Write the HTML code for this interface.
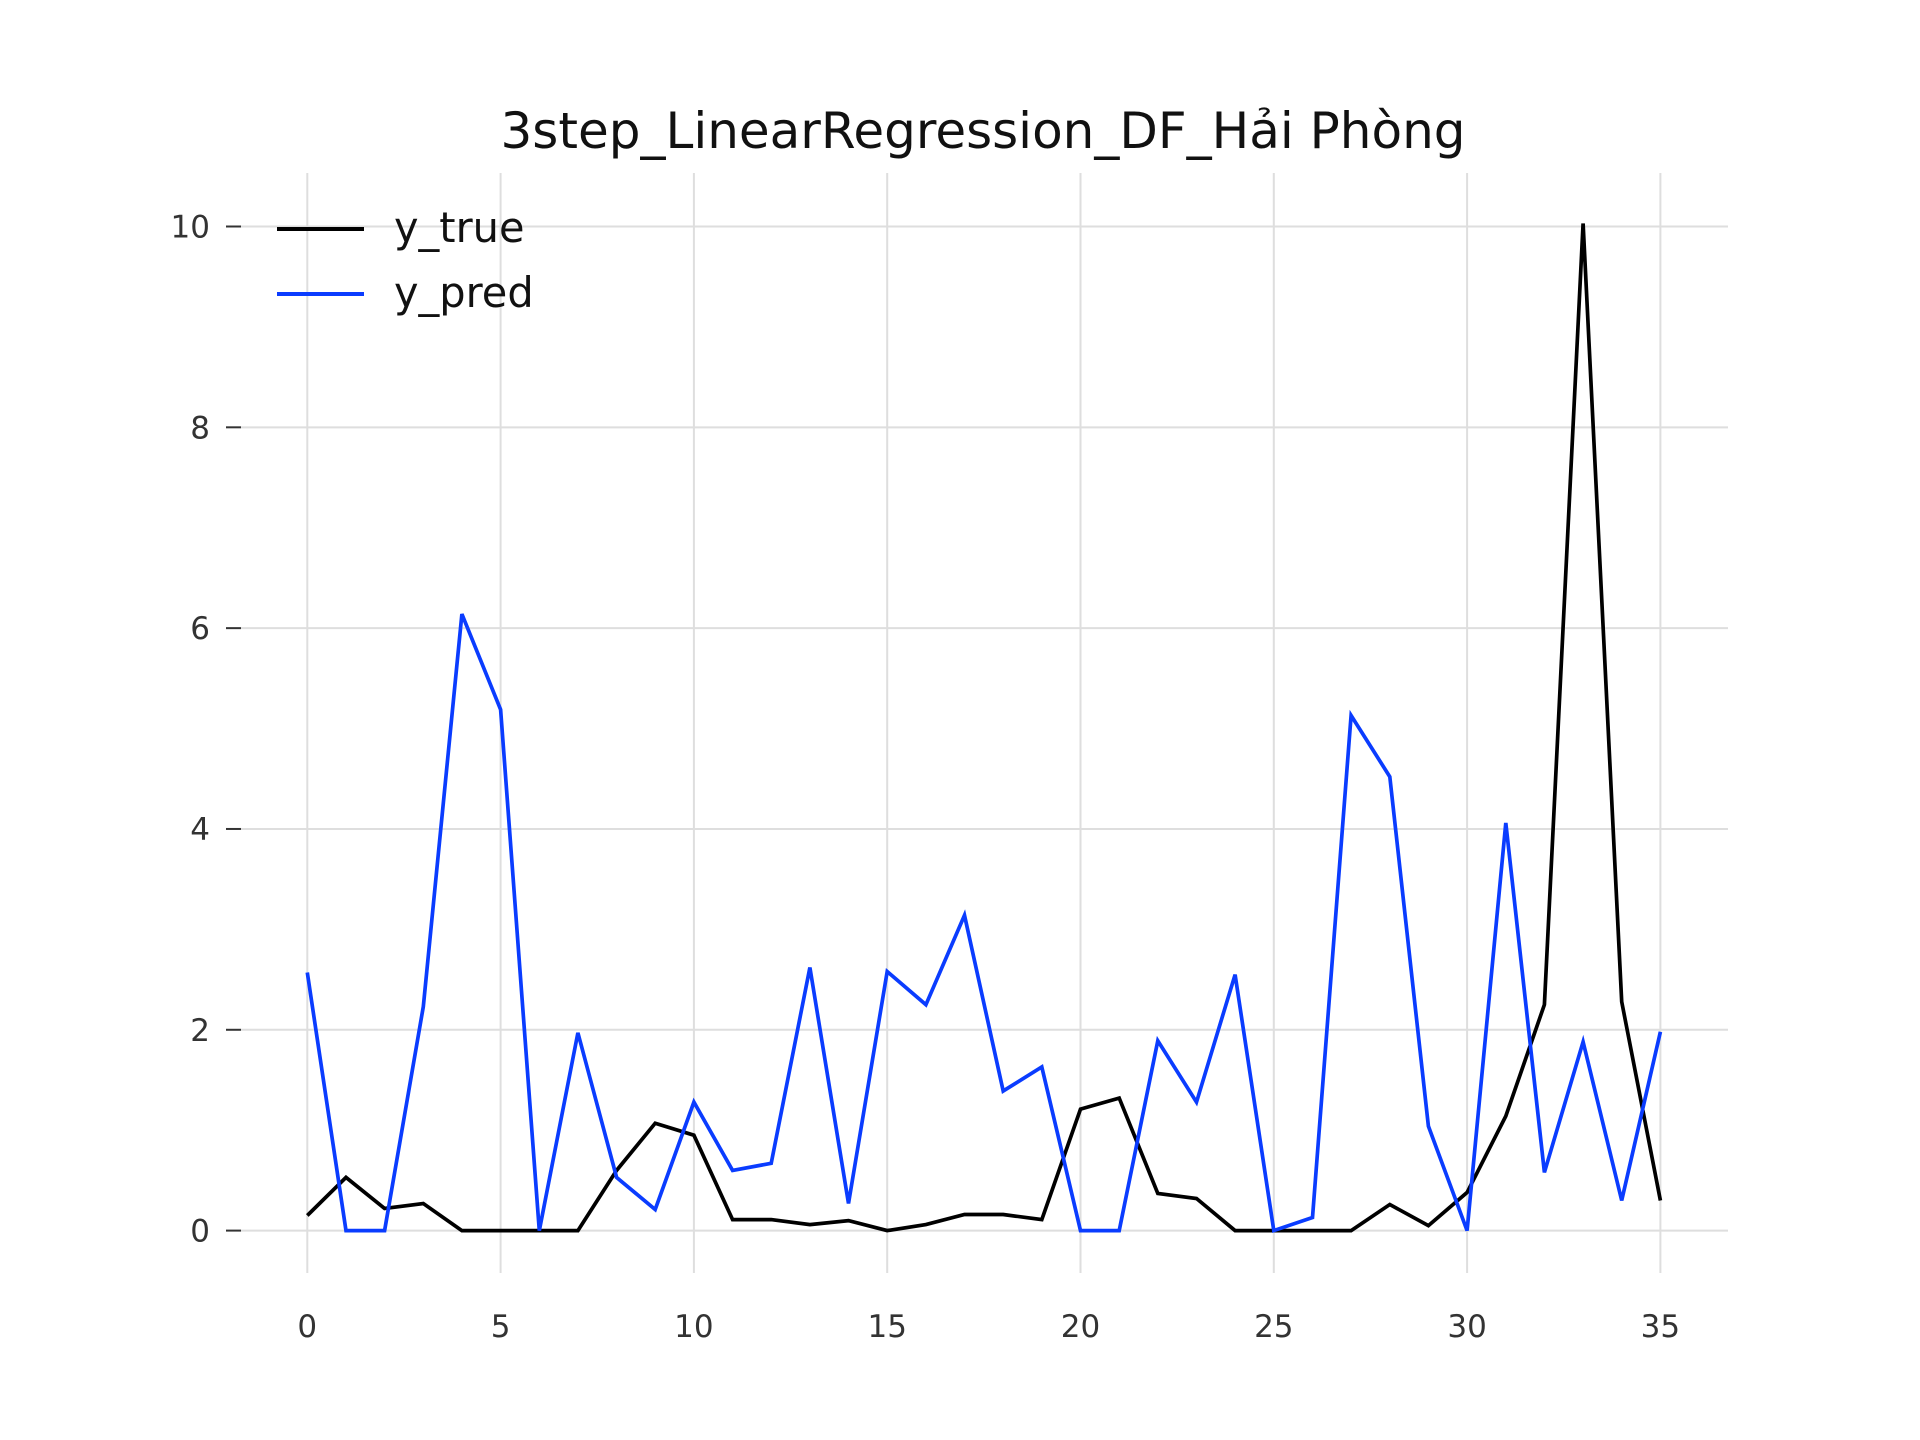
<!DOCTYPE html>
<html><head><meta charset="utf-8"><style>
html,body{margin:0;padding:0;background:#fff;}
svg{display:block;font-family:"DejaVu Sans","Liberation Sans",sans-serif;}
</style></head><body>
<svg id="chart" width="1920" height="1440" viewBox="0 0 1920 1440" xmlns="http://www.w3.org/2000/svg">
<rect width="1920" height="1440" fill="#fff"/>
<text x="983" y="148" font-size="50" text-anchor="middle" fill="#111">3step_LinearRegression_DF_Hải Phòng</text>
<g id="grid"></g>
<g id="yticks"></g>
<g id="xticks"></g>
<g id="series"></g>
<g>
<line x1="277" y1="229" x2="364" y2="229" stroke="#000" stroke-width="4"/>
<text x="394" y="242" font-size="41.5" fill="#111">y_true</text>
<line x1="277" y1="294" x2="364" y2="294" stroke="#0a3cff" stroke-width="4"/>
<text x="394" y="307" font-size="41.5" fill="#111">y_pred</text>
</g>
</svg>
<script>
const xTicks = [0,5,10,15,20,25,30,35];
const yTicks = [0,2,4,6,8,10];
const yTrue = [0.15,0.53,0.22,0.27,0,0,0,0,0.6,1.07,0.95,0.11,0.11,0.06,0.1,0,0.06,0.16,0.16,0.11,1.21,1.32,0.37,0.32,0,0,0,0,0.26,0.05,0.38,1.14,2.25,10.03,2.28,0.3];
const yPred = [2.57,0,0,2.23,6.14,5.19,0,1.97,0.53,0.21,1.28,0.6,0.67,2.62,0.27,2.58,2.25,3.14,1.39,1.63,0,0,1.89,1.28,2.55,0,0.13,5.13,4.52,1.04,0,4.06,0.58,1.88,0.3,1.98];
const NS='http://www.w3.org/2000/svg';
const xs = v => 307.3 + v*(1660.4-307.3)/35;
const ys = v => 1230.6 - v*(1230.6-226.5)/10;
const grid=document.getElementById('grid'), yt=document.getElementById('yticks'), xt=document.getElementById('xticks'), ser=document.getElementById('series');
function mk(tag,attrs){const e=document.createElementNS(NS,tag);for(const k in attrs)e.setAttribute(k,attrs[k]);return e;}
xTicks.forEach(t=>{
  const g=mk('line',{x1:xs(t),x2:xs(t),y1:173,y2:1273,stroke:'#dedede','stroke-width':2});
  
  
  grid.appendChild(g);
  const l=mk('text',{x:xs(t),y:1337,'font-size':31,'text-anchor':'middle',fill:'#333'});
  l.textContent=t;
  
  
  xt.appendChild(l);
});
yTicks.forEach(t=>{
  const g=mk('line',{x1:241,x2:1728,y1:ys(t),y2:ys(t),stroke:'#dedede','stroke-width':2});
  
  
  grid.appendChild(g);
  const tm=mk('line',{x1:226,x2:241,y1:ys(t),y2:ys(t),stroke:'#333','stroke-width':2});
  
  
  yt.appendChild(tm);
  const l=mk('text',{x:210,y:ys(t)+11,'font-size':31,'text-anchor':'end',fill:'#333'});
  l.textContent=t;
  
  
  yt.appendChild(l);
});
function path(data,color,name){
  const d=data.map((v,i)=>(i?'L':'M')+xs(i).toFixed(1)+','+ys(v).toFixed(1)).join('');
  const p=mk('path',{d:d,fill:'none',stroke:color,'stroke-width':3.7,'stroke-linejoin':'miter'});
  
  
  ser.appendChild(p);
}
path(yTrue,'#000','y-true-line');
path(yPred,'#0a3cff','y-pred-line');
</script>
</body></html>
